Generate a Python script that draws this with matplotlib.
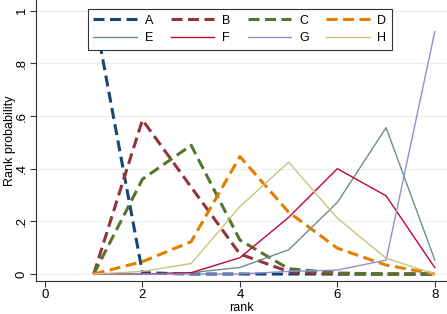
import numpy as np
import matplotlib
matplotlib.use("Agg")
import matplotlib.pyplot as plt

plt.rcParams["font.family"] = ["Liberation Sans", "DejaVu Sans"]

# === DATA ===
ranks = [1, 2, 3, 4, 5, 6, 7, 8]
prob_A = [1.00, 0.005, 0.0, 0.0, 0.0, 0.0, 0.0, 0.0]
prob_B = [0.0, 0.585, 0.33, 0.076, 0.009, 0.0, 0.0, 0.0]
prob_C = [0.0, 0.36, 0.489, 0.129, 0.02, 0.004, 0.0, 0.0]
prob_D = [0.0, 0.047, 0.123, 0.446, 0.235, 0.098, 0.034, 0.0]
prob_E = [0.0, 0.0, 0.005, 0.025, 0.092, 0.272, 0.556, 0.053]
prob_F = [0.0, 0.0, 0.005, 0.062, 0.215, 0.40, 0.297, 0.024]
prob_G = [0.0, 0.0, 0.0, 0.0, 0.01, 0.015, 0.053, 0.921]
prob_H = [0.0, 0.01, 0.04, 0.256, 0.425, 0.212, 0.06, 0.0]

labels = ["A", "B", "C", "D", "E", "F", "G", "H"]
series = [prob_A, prob_B, prob_C, prob_D, prob_E, prob_F, prob_G, prob_H]
# Stata s2color palette
colors = ["#1a476f", "#90353b", "#55752f", "#e37e00",
          "#6e8e84", "#c10534", "#938dd2", "#cac27e"]
dashed = [True, True, True, True, False, False, False, False]

xticks = [0, 2, 4, 6, 8]
yticks = [0, 0.2, 0.4, 0.6, 0.8, 1.0]
ytick_labels = ["0", ".2", ".4", ".6", ".8", "1"]

# === PLOT ===
fig = plt.figure(figsize=(4.47, 3.14), dpi=100)
ax = fig.add_axes([0.0805, 0.106, 0.9195, 0.894])

for y in yticks:
    ax.axhline(y, color="#eaeff1", lw=0.9, zorder=0)

handles = []
for lab, vals, col, dsh in zip(labels, series, colors, dashed):
    if dsh:
        h, = ax.plot(ranks, vals, color=col, lw=2.2, dashes=(3.6, 1.8), label=lab)
    else:
        h, = ax.plot(ranks, vals, color=col, lw=1.0, label=lab)
    handles.append(h)

ax.set_xlim(-0.185, 8.25)
ax.set_ylim(-0.0254, 1.0406)
ax.set_xticks(xticks)
ax.set_yticks(yticks)
ax.set_yticklabels(ytick_labels, rotation=90, va="center")
ax.tick_params(axis="both", direction="out", length=4, width=0.8,
               labelsize=9.5, color="#333333")
ax.tick_params(axis="x", pad=2)
ax.tick_params(axis="y", pad=2)
for s in ["top", "right"]:
    ax.spines[s].set_visible(False)
for s in ["left", "bottom"]:
    ax.spines[s].set_linewidth(0.8)
    ax.spines[s].set_color("#333333")

ax.set_xlabel("rank", fontsize=9, labelpad=1)
ax.set_ylabel("Rank probability", fontsize=9, labelpad=0)

# legend filled row-wise like Stata: reorder for matplotlib's column filling
order = [0, 4, 1, 5, 2, 6, 3, 7]
leg = ax.legend([handles[i] for i in order], [labels[i] for i in order],
                ncol=4, loc="upper center",
                bbox_to_anchor=(0.496, 0.99), fontsize=9, frameon=True,
                fancybox=False, handlelength=3.5, handletextpad=0.6,
                columnspacing=1.4, labelspacing=0.45, borderpad=0.45)
leg.get_frame().set_edgecolor("#333333")
leg.get_frame().set_linewidth(0.8)
leg.get_frame().set_alpha(1)

plt.savefig("out.png", dpi=100)
